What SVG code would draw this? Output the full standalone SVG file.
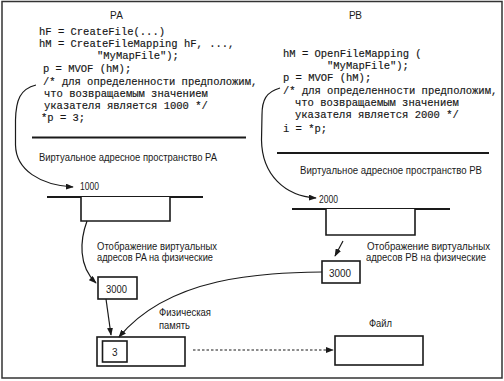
<svg xmlns="http://www.w3.org/2000/svg" width="504" height="381" viewBox="0 0 504 381">
  <defs>
    <marker id="ah" viewBox="0 0 10 10" refX="9" refY="5" markerWidth="8" markerHeight="6" markerUnits="userSpaceOnUse" orient="auto" preserveAspectRatio="none">
      <path d="M0,0 L10,5 L0,10 Z" fill="#1a1a1a"/>
    </marker>
    <style>
      .code { font-family: "Liberation Mono", "DejaVu Sans Mono", monospace; font-size: 10.5px; fill: #161616; stroke: #161616; stroke-width: 0.15; }
      .lbl { font-family: "Liberation Sans", Arial, sans-serif; font-size: 10px; fill: #1a1a1a; }
      .box { fill: #ffffff; stroke: #1a1a1a; stroke-width: 1.6; }
      .rule { stroke: #1a1a1a; stroke-width: 2; fill: none; }
      .con { fill: none; stroke: #1a1a1a; stroke-width: 1.2; }
      .dash { fill: none; stroke: #1a1a1a; stroke-width: 1.2; stroke-dasharray: 2.5 2; }
    </style>
  </defs>
  <rect x="0" y="0" width="504" height="381" fill="#ffffff"/>
  <rect x="2" y="1.5" width="500" height="376.5" fill="none" stroke="#333" stroke-width="1.5"/>

  <g id="code-pa">
    <text class="lbl" x="110" y="19" textLength="13">PA</text>
    <text class="code" x="39" y="35">hF = CreateFile(...)</text>
    <text class="code" x="39" y="47">hM = CreateFileMapping hF, ...,</text>
    <text class="code" x="97" y="59">"MyMapFile");</text>
    <text class="code" x="43" y="72">p = MVOF (hM);</text>
    <text class="code" x="43" y="85">/* для определенности предположим,</text>
    <text class="code" x="44" y="97">что возвращаемым значением</text>
    <text class="code" x="44" y="109">указателя является 1000 */</text>
    <text class="code" x="41" y="121">*p = 3;</text>
    <line class="rule" x1="32" y1="137.5" x2="246" y2="137.5"/>
  </g>

  <g id="code-pb">
    <text class="lbl" x="349" y="19" textLength="13">PB</text>
    <text class="code" x="283" y="57">hM = OpenFileMapping (</text>
    <text class="code" x="327" y="69">"MyMapFile");</text>
    <text class="code" x="283" y="81">p = MVOF (hM);</text>
    <text class="code" x="283" y="94">/* для определенности предположим,</text>
    <text class="code" x="295" y="106">что возвращаемым значением</text>
    <text class="code" x="295" y="118">указателя является 2000 */</text>
    <text class="code" x="283" y="132">i = *p;</text>
    <line class="rule" x1="277" y1="153" x2="489" y2="153"/>
  </g>

  <g id="va-pa">
    <text class="lbl" x="39" y="161" textLength="178" lengthAdjust="spacingAndGlyphs">Виртуальное адресное пространство PA</text>
    <text class="lbl" x="80" y="190" textLength="19" lengthAdjust="spacingAndGlyphs">1000</text>
    <line class="rule" x1="47" y1="197" x2="203" y2="197"/>
    <path class="box" d="M81,197 V221 H170 V197"/>
  </g>

  <g id="va-pb">
    <text class="lbl" x="300" y="174" textLength="182" lengthAdjust="spacingAndGlyphs">Виртуальное адресное пространство PB</text>
    <text class="lbl" x="319" y="203" textLength="19" lengthAdjust="spacingAndGlyphs">2000</text>
    <line class="rule" x1="292" y1="209" x2="450" y2="209"/>
    <path class="box" d="M326,209 V235 H415 V209"/>
  </g>

  <g id="map-pa">
    <text class="lbl" x="97" y="250" textLength="120" lengthAdjust="spacingAndGlyphs">Отображение виртуальных</text>
    <text class="lbl" x="97" y="261" textLength="116" lengthAdjust="spacingAndGlyphs">адресов PA на физические</text>
    <rect class="box" x="98" y="277" width="39" height="22"/>
    <text class="lbl" x="106" y="293" textLength="21" lengthAdjust="spacingAndGlyphs">3000</text>
  </g>

  <g id="map-pb">
    <text class="lbl" x="367" y="250" textLength="123" lengthAdjust="spacingAndGlyphs">Отображение виртуальных</text>
    <text class="lbl" x="366" y="261" textLength="120" lengthAdjust="spacingAndGlyphs">адресов PB на физические</text>
    <rect class="box" x="322" y="261" width="38" height="22"/>
    <text class="lbl" x="329" y="277" textLength="22" lengthAdjust="spacingAndGlyphs">3000</text>
  </g>

  <g id="phys">
    <text class="lbl" x="159" y="316" textLength="52" lengthAdjust="spacingAndGlyphs">Физическая</text>
    <text class="lbl" x="159" y="329" textLength="31" lengthAdjust="spacingAndGlyphs">память</text>
    <rect class="box" x="97" y="337" width="88" height="29"/>
    <rect class="box" x="102.5" y="341" width="24.5" height="21"/>
    <text class="lbl" x="112" y="356">3</text>
  </g>

  <g id="file">
    <text class="lbl" x="369" y="327" textLength="23" lengthAdjust="spacingAndGlyphs">Файл</text>
    <rect class="box" x="335" y="336" width="88" height="29"/>
  </g>

  <g id="connectors">
    <path class="con" marker-end="url(#ah)" d="M36,85 C20,89 16,100 15.5,120 L15.5,145 C16,170 40,185 73,187"/>
    <path class="con" marker-end="url(#ah)" d="M280,88 C266,92 262,100 262,115 L261.5,140 C262,175 285,196 316,198"/>
    <path class="con" marker-end="url(#ah)" d="M87,221 C80,240 78,266 96,283"/>
    <path class="con" marker-end="url(#ah)" d="M106,299 L111,335"/>
    <path class="con" marker-end="url(#ah)" d="M343,241 L335,256"/>
    <path class="con" marker-end="url(#ah)" d="M322,272 C262,273 170,276 119,337"/>
    <path class="dash" marker-end="url(#ah)" d="M193,350 L333,350"/>
  </g>
</svg>
